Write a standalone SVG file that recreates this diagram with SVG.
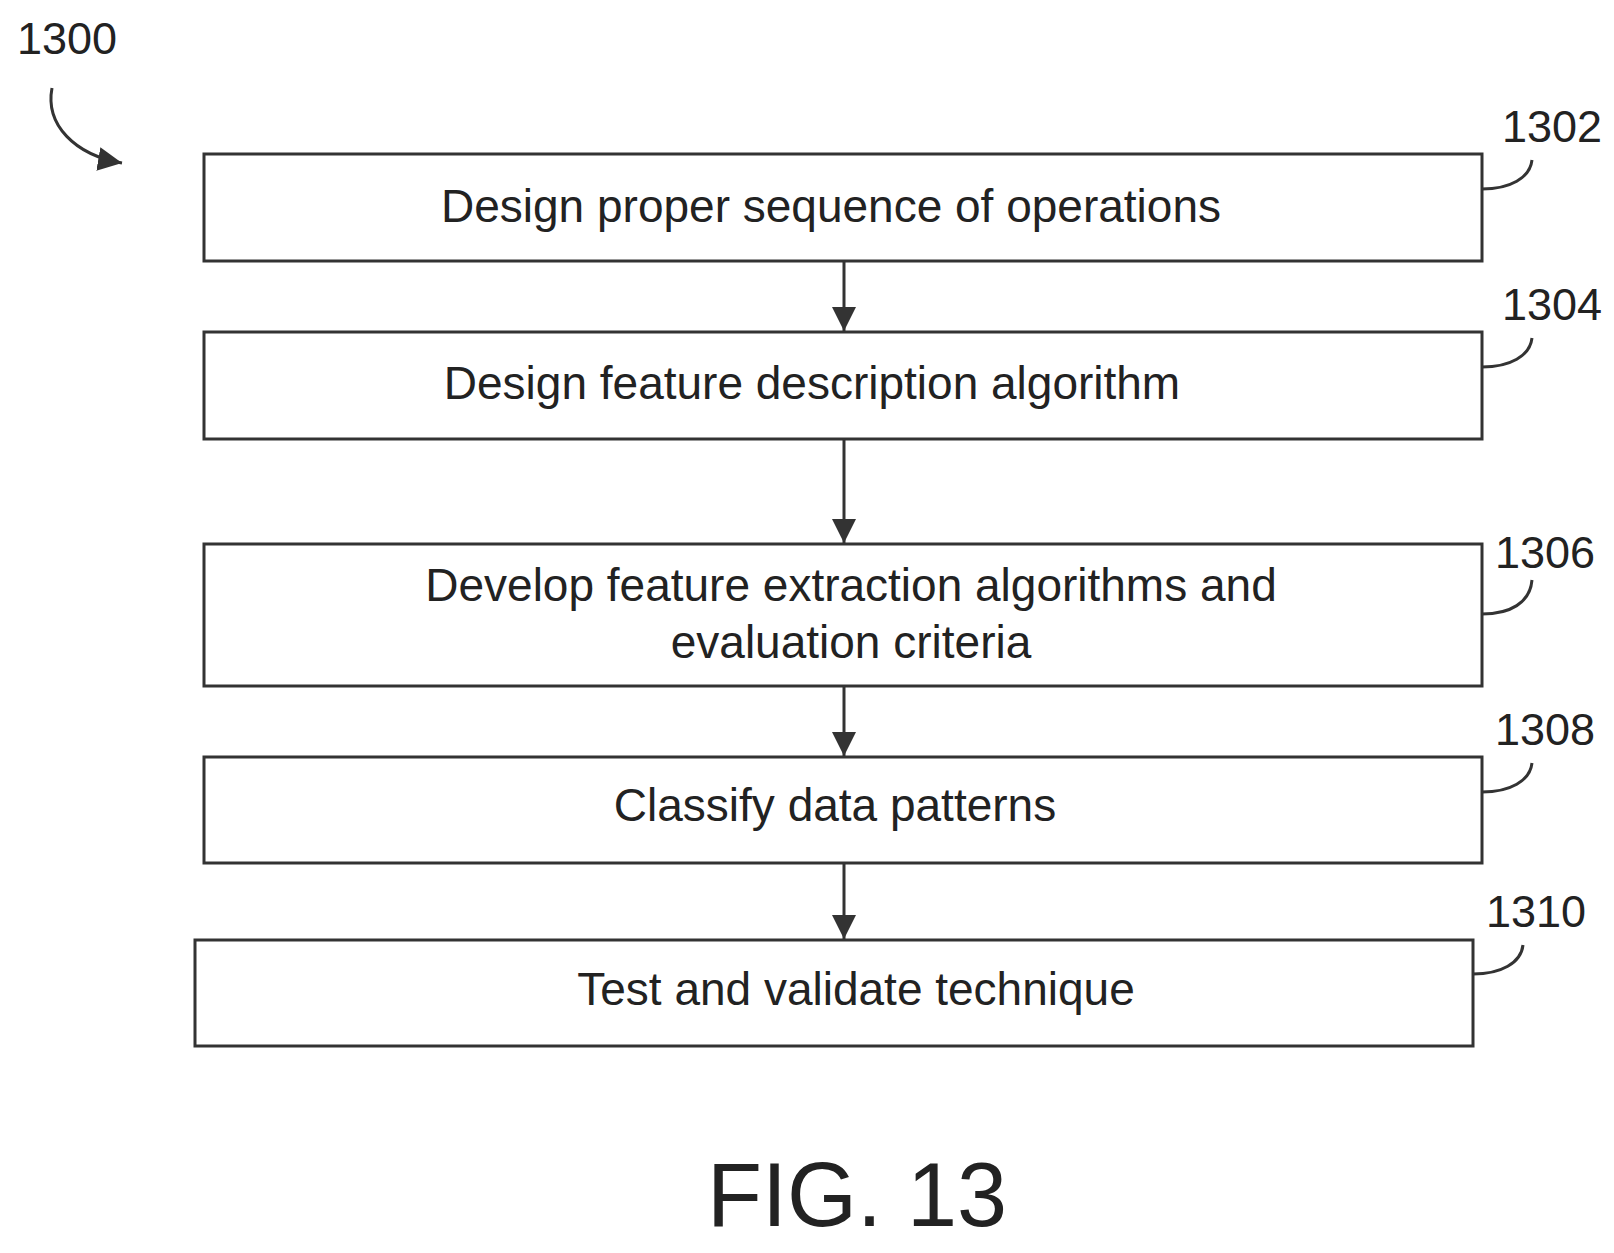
<svg xmlns="http://www.w3.org/2000/svg" width="1614" height="1253" viewBox="0 0 1614 1253">
<style>
.b{fill:#fff;stroke:#333;stroke-width:3}
.t{font-family:"Liberation Sans",Arial,sans-serif;font-size:46px;fill:#222;text-anchor:middle}
.l{font-family:"Liberation Sans",Arial,sans-serif;font-size:45px;fill:#222;text-anchor:middle}
.c{fill:none;stroke:#333;stroke-width:3}
</style>
<defs>
<marker id="m" viewBox="0 0 10 10" refX="10" refY="5" markerWidth="24" markerHeight="24" markerUnits="userSpaceOnUse" orient="auto"><path d="M0,0L10,5L0,10z" fill="#333"/></marker></defs>
<text class="l" x="67" y="54">1300</text>
<g id="n1302"><rect class="b" x="204" y="154" width="1278" height="107"/><text class="t" x="831" y="222">Design proper sequence of operations</text><path class="c" d="M1482,189 C1510,189 1530,178 1532,160"/><text class="l" x="1552" y="142">1302</text></g>
<g id="n1304"><rect class="b" x="204" y="332" width="1278" height="107"/><text class="t" x="812" y="399">Design feature description algorithm</text><path class="c" d="M1482,367 C1510,367 1530,356 1532,338"/><text class="l" x="1552" y="320">1304</text></g>
<g id="n1306"><rect class="b" x="204" y="544" width="1278" height="142"/><text class="t" x="851" y="601">Develop feature extraction algorithms and</text><text class="t" x="851" y="658">evaluation criteria</text><path class="c" d="M1482,614 C1510,614 1530,603 1532,580"/><text class="l" x="1545" y="568">1306</text></g>
<g id="n1308"><rect class="b" x="204" y="757" width="1278" height="106"/><text class="t" x="835" y="821">Classify data patterns</text><path class="c" d="M1482,792 C1510,792 1530,781 1532,763"/><text class="l" x="1545" y="745">1308</text></g>
<g id="n1310"><rect class="b" x="195" y="940" width="1278" height="106"/><text class="t" x="856" y="1005">Test and validate technique</text><path class="c" d="M1473,974 C1501,974 1521,963 1523,945"/><text class="l" x="1536" y="927">1310</text></g>
<g id="connectors">
<path class="c" d="M52,88 C45,125 75,155 122,163" marker-end="url(#m)"/>
<line class="c" x1="844" y1="261" x2="844" y2="331" marker-end="url(#m)"/>
<line class="c" x1="844" y1="439" x2="844" y2="543" marker-end="url(#m)"/>
<line class="c" x1="844" y1="686" x2="844" y2="756" marker-end="url(#m)"/>
<line class="c" x1="844" y1="863" x2="844" y2="939" marker-end="url(#m)"/>
</g>
<text class="l" x="857" y="1226" style="font-size:90px">FIG. 13</text>
</svg>
